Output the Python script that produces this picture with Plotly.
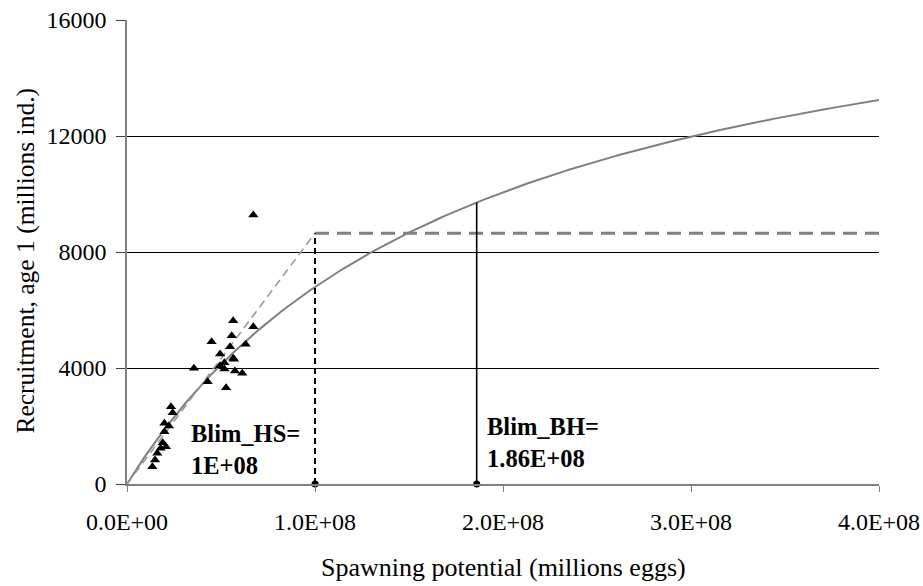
import numpy as np
import plotly.graph_objects as go

# Observed stock-recruitment points (spawning potential, millions eggs; recruitment, millions ind.)
obs_ssb = [0.672e8, 0.565e8, 0.672e8, 0.557e8, 0.450e8, 0.631e8, 0.548e8, 0.495e8,
           0.565e8, 0.569e8, 0.518e8, 0.495e8, 0.518e8, 0.356e8, 0.574e8, 0.613e8,
           0.429e8, 0.527e8, 0.234e8, 0.243e8, 0.199e8, 0.223e8, 0.199e8, 0.190e8,
           0.207e8, 0.179e8, 0.161e8, 0.149e8, 0.135e8]
obs_rec = [9280, 5631, 5424, 5114, 4907, 4817, 4736, 4483,
           4334, 4300, 4183, 4080, 3966, 3989, 3897, 3817,
           3528, 3321, 2666, 2459, 2093, 2000, 1803, 1424,
           1286, 1231, 1059, 828, 597]

# Hockey-stick model
hs_x = [0, 1.0e8, 4.0e8]
hs_y = [0, 8650, 8650]

# Beverton-Holt model parameters (R = a*S/(b+S))
bh_a = 19368
bh_b = 1.851e8

# Reference points
blim_hs = 1.0e8
blim_bh = 1.86e8

x_ticks = [0, 1e8, 2e8, 3e8, 4e8]
x_labels = ["0.0E+00", "1.0E+08", "2.0E+08", "3.0E+08", "4.0E+08"]
y_ticks = [0, 4000, 8000, 12000, 16000]
y_labels = ["0", "4000", "8000", "12000", "16000"]

FONT = "Liberation Serif, Times New Roman, serif"
FS_TICK = 24
FS_TITLE = 26
FS_NOTE = 24.5

bh_s = np.linspace(0, 4e8, 400)
bh_r = bh_a * bh_s / (bh_b + bh_s)
bh_at_blim = bh_a * blim_bh / (bh_b + blim_bh)

fig = go.Figure()

fig.add_trace(go.Scatter(x=bh_s, y=bh_r, mode="lines",
                         line=dict(color="#808080", width=2), showlegend=False))
fig.add_trace(go.Scatter(x=hs_x[:2], y=hs_y[:2], mode="lines",
                         line=dict(color="#999999", width=1.6, dash="8px,5px"), showlegend=False))
fig.add_trace(go.Scatter(x=hs_x[1:], y=hs_y[1:], mode="lines",
                         line=dict(color="#808080", width=3, dash="14px,8px"), showlegend=False))
fig.add_trace(go.Scatter(x=[blim_hs, blim_hs], y=[0, hs_y[1]], mode="lines",
                         line=dict(color="black", width=2, dash="6px,4px"), showlegend=False))
fig.add_trace(go.Scatter(x=[blim_bh, blim_bh], y=[0, bh_at_blim], mode="lines",
                         line=dict(color="black", width=1.6), showlegend=False))
fig.add_trace(go.Scatter(x=obs_ssb, y=obs_rec, mode="markers",
                         marker=dict(symbol="triangle-up", size=9, color="black"), showlegend=False))
fig.add_trace(go.Scatter(x=[blim_hs, blim_bh], y=[0, 0], mode="markers",
                         marker=dict(symbol="circle", size=7, color="black"),
                         showlegend=False, cliponaxis=False))

fig.add_annotation(x=0.331e8, y=1200, text="<b>Blim_HS=<br>1E+08</b>", showarrow=False,
                   xanchor="left", yanchor="middle", align="left",
                   font=dict(family=FONT, size=FS_NOTE, color="black"))
fig.add_annotation(x=1.904e8, y=1448, text="<b>Blim_BH=<br>1.86E+08</b>", showarrow=False,
                   xanchor="left", yanchor="middle", align="left",
                   font=dict(family=FONT, size=FS_NOTE, color="black"))

# Axis titles
fig.add_annotation(xref="paper", yref="paper", x=0.5, y=-0.181,
                   text="Spawning potential (millions eggs)", showarrow=False,
                   xanchor="center", yanchor="middle",
                   font=dict(family=FONT, size=FS_TITLE, color="black"))
fig.add_annotation(xref="paper", yref="paper", x=-0.1356, y=0.4817,
                   text="Recruitment, age 1 (millions ind.)", showarrow=False, textangle=-90,
                   xanchor="center", yanchor="middle",
                   font=dict(family=FONT, size=FS_TITLE - 0.5, color="black"))

fig.update_layout(
    width=923, height=586,
    margin=dict(l=127, r=44, t=20, b=102),
    plot_bgcolor="white", paper_bgcolor="white",
    font=dict(family=FONT, size=FS_TICK, color="black"),
)
fig.update_xaxes(range=[0, 4e8], tickvals=x_ticks, ticktext=x_labels, automargin=False,
                 showgrid=False, zeroline=False, showline=True, linecolor="#808080", linewidth=1.5,
                 ticks="outside", ticklen=6, tickcolor="#808080", ticklabelstandoff=9,
                 tickfont=dict(family=FONT, size=FS_TICK, color="black"))
fig.update_yaxes(range=[0, 16000], tickvals=y_ticks, ticktext=y_labels, automargin=False,
                 showgrid=True, gridcolor="black", gridwidth=1, zeroline=False,
                 showline=True, linecolor="#808080", linewidth=1.5,
                 ticks="outside", ticklen=9, tickcolor="#404040", ticklabelstandoff=5,
                 tickfont=dict(family=FONT, size=FS_TICK, color="black"))

fig.write_html("out.html", config={"displayModeBar": False},
               post_script="document.body.style.margin='0';")
